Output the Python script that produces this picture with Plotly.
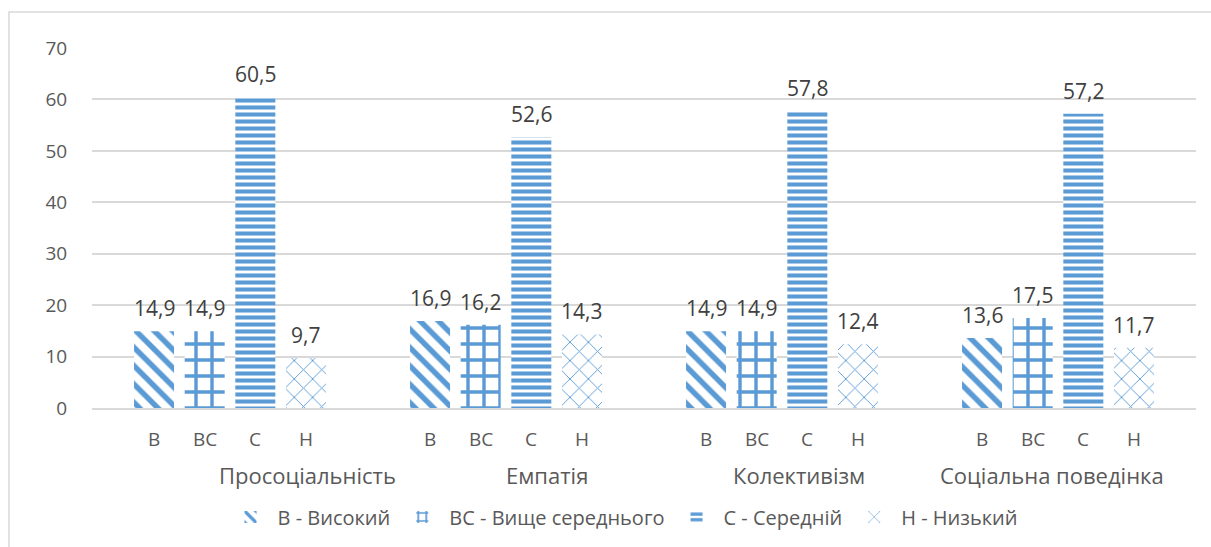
import plotly.graph_objects as go

# Scales and levels
groups = ["Просоціальність", "Емпатія", "Колективізм", "Соціальна поведінка"]
level_codes = ["В", "ВС", "С", "Н"]
level_names = ["В - Високий", "ВС - Вище середнього", "С - Середній", "Н - Низький"]

# Percentage of respondents per level, one list per level (across groups)
vals_high = [14.9, 16.9, 14.9, 13.6]
vals_above = [14.9, 16.2, 14.9, 17.5]
vals_mid = [60.5, 52.6, 57.8, 57.2]
vals_low = [9.7, 14.3, 12.4, 11.7]
series = [vals_high, vals_above, vals_mid, vals_low]

y_ticks = [0, 10, 20, 30, 40, 50, 60, 70]

BLUE = "#5B9BD5"
TXT = "#595959"
LBL = "#404040"
FONT = "Open Sans"

BARGAP = 0.266
GROUPGAP = 0.21
slot = (1 - BARGAP) / len(series)

patterns = [
    dict(shape="\\", size=13, solidity=0.42),
    dict(shape="+", size=16, solidity=0.38),
    dict(shape="-", size=7, solidity=0.58),
    dict(shape="x", size=13, solidity=0.14),
]

fig = go.Figure()
for j, (name, vals) in enumerate(zip(level_names, series)):
    fig.add_trace(go.Bar(
        x=groups, y=vals, name=name,
        marker=dict(color="white", line=dict(width=0),
                    pattern=dict(fgcolor=BLUE, bgcolor="white", fgopacity=1,
                                 fillmode="replace", **patterns[j])),
        hoverinfo="skip",
    ))

annotations = []
for j, vals in enumerate(series):
    for g, v in enumerate(vals):
        xpos = g + (j - 1.5) * slot
        # value label above each bar
        annotations.append(dict(
            x=xpos, y=v, xref="x", yref="y", text=f"{v:.1f}".replace(".", ","),
            showarrow=False, yanchor="bottom", yshift=7,
            font=dict(family=FONT, size=21, color=LBL)))
        # level code under each bar
        annotations.append(dict(
            x=xpos, y=-0.086, xref="x", yref="paper", text=level_codes[j],
            showarrow=False, yanchor="middle",
            font=dict(family=FONT, size=19, color=TXT)))

# group captions on the second line of the category axis
group_label_x = [0.282, 1.147, 2.061, 2.978]
for g, name in enumerate(groups):
    annotations.append(dict(
        x=group_label_x[g], y=-0.185, xref="x", yref="paper", text=name,
        showarrow=False, yanchor="middle",
        font=dict(family=FONT, size=22, color=TXT)))

fig.update_layout(
    width=1211, height=547, autosize=False,
    margin=dict(l=92, r=15, t=48, b=138),
    paper_bgcolor="white", plot_bgcolor="white",
    barmode="group", bargap=BARGAP, bargroupgap=GROUPGAP,
    font=dict(family=FONT, color=TXT),
    showlegend=True,
    legend=dict(orientation="h", x=0.481, xanchor="center", y=-0.299, yanchor="middle",
                font=dict(family=FONT, size=20, color=TXT), itemwidth=44,
                traceorder="normal"),
    annotations=annotations,
    shapes=[dict(type="rect", xref="paper", yref="paper",
                 x0=-0.0752, x1=1.2, y0=-0.6, y1=1.0997,
                 line=dict(color="#d9d9d9", width=1.5), fillcolor="rgba(0,0,0,0)",
                 layer="below")],
)
fig.update_xaxes(range=[-0.5, len(groups) - 0.5], autorange=False,
                 showticklabels=False, showline=True, linecolor="#d9d9d9", linewidth=1.5,
                 showgrid=False, ticks="")
fig.update_yaxes(range=[0, 70], autorange=False, tickvals=y_ticks, showgrid=True,
                 gridcolor="#d9d9d9", gridwidth=1.5, zeroline=False, showline=False,
                 ticks="outside", ticklen=20, tickcolor="rgba(0,0,0,0)",
                 tickfont=dict(family=FONT, size=19, color=TXT))

fig.write_html("out.html")
